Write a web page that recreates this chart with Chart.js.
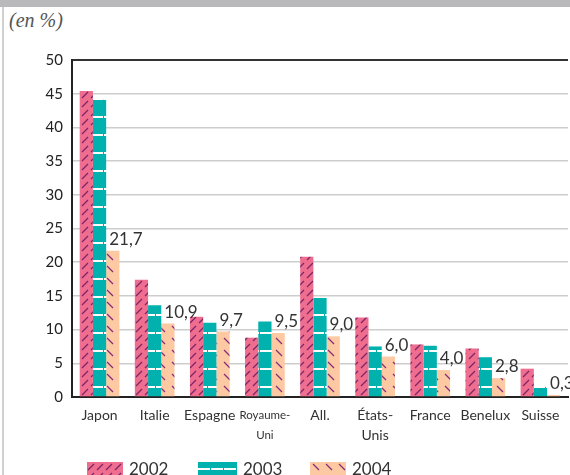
<!DOCTYPE html>
<html>
<head>
<meta charset="utf-8">
<script src="https://cdn.jsdelivr.net/npm/chart.js@4.4.1/dist/chart.umd.min.js"></script>
<style>
  body { margin: 0; width: 570px; height: 475px; overflow: hidden; background: #fff; position: relative; font-family: Lato, sans-serif; }
  #topband { position: absolute; left: 0; top: 0; width: 570px; height: 7px; background: #b9b9bb; }
  #leftline { position: absolute; left: 2px; top: 7px; width: 2px; height: 468px; background: #d0d0d0; }
  #unit { position: absolute; left: 9px; top: 9px; font-family: "Liberation Serif", serif; font-style: italic; font-size: 20px; color: #555; }
  #wrap { position: absolute; left: 0; top: 0; width: 570px; height: 475px; }
  .leg { position: absolute; top: 460px; font-size: 17px; color: #333; line-height: 17px; }
  .leg canvas { position: absolute; top: 2px; }
</style>
</head>
<body>
<div id="topband"></div>
<div id="leftline"></div>
<div id="unit">(en %)</div>
<div id="wrap"><canvas id="myChart" width="570" height="475"></canvas></div>
<div id="legend"></div>
<script>
'use strict';
let countries = ['Japon', 'Italie', 'Espagne', ['Royaume-', 'Uni'], 'All.', ['États-', 'Unis'], 'France', 'Benelux', 'Suisse'];
let years = ['2002', '2003', '2004'];
let values2002 = [45.4, 17.4, 11.9, 8.8, 20.8, 11.8, 7.8, 7.2, 4.2];
let values2003 = [44.1, 13.6, 11.0, 11.2, 14.7, 7.5, 7.6, 5.9, 1.5];
let values2004 = [21.7, 10.9, 9.7, 9.5, 9.0, 6.0, 4.0, 2.8, 0.3];
let yTicks = [0, 5, 10, 15, 20, 25, 30, 35, 40, 45, 50];

function makePattern(w, h, bg, draw) {
    let c = document.createElement('canvas');
    c.width = w;
    c.height = h;
    let g = c.getContext('2d');
    g.fillStyle = bg;
    g.fillRect(0, 0, w, h);
    draw(g);
    return c;
}

// 2002 : rose hachuré /
let tile2002 = makePattern(9, 9, '#ef6e8f', function (g) {
    g.strokeStyle = '#7b2466';
    g.lineWidth = 1.3;
    g.beginPath();
    g.moveTo(1, 8);
    g.lineTo(7, 2);
    g.stroke();
});
// 2003 : turquoise avec traits blancs horizontaux
let tile2003 = makePattern(13, 18, '#00b1ad', function (g) {
    g.fillStyle = '#ffffff';
    g.fillRect(0, 8, 12, 2);
});
// 2004 : pêche hachuré \
let tile2004 = makePattern(13, 12, '#fcc9a2', function (g) {
    g.strokeStyle = '#8a2a78';
    g.lineWidth = 1.3;
    g.beginPath();
    g.moveTo(3, 2);
    g.lineTo(9, 8);
    g.stroke();
});

let ctx = document.getElementById('myChart').getContext('2d');
let fill2002 = ctx.createPattern(tile2002, 'repeat');
let fill2003 = ctx.createPattern(tile2003, 'repeat');
let fill2004 = ctx.createPattern(tile2004, 'repeat');

// étiquettes de valeur sur 2004
let valueLabels = {
    id: 'valueLabels',
    afterDatasetsDraw(chart) {
        let c = chart.ctx;
        let meta = chart.getDatasetMeta(2);
        c.save();
        c.font = '17px Lato';
        c.fillStyle = '#333';
        c.textAlign = 'left';
        c.textBaseline = 'bottom';
        meta.data.forEach(function (bar, i) {
            let txt = values2004[i].toFixed(1).replace('.', ',');
            c.fillText(txt, bar.x - bar.width / 2 + 3, bar.y - 3);
        });
        c.restore();
    }
};

var myChart = new Chart(ctx, {
    type: 'bar',
    data: {
        labels: countries,
        datasets: [{
            label: years[0],
            data: values2002,
            backgroundColor: fill2002
        }, {
            label: years[1],
            data: values2003,
            backgroundColor: fill2003
        }, {
            label: years[2],
            data: values2004,
            backgroundColor: fill2004
        }]
    },
    options: {
        responsive: false,
        animation: false,
        layout: { padding: { top: 60, right: 2, left: 0, bottom: 0 } },
        plugins: {
            legend: { display: false },
            tooltip: { enabled: false }
        },
        datasets: {
            bar: { categoryPercentage: 0.72, barPercentage: 1.0 }
        },
        scales: {
            x: {
                afterFit: function (scale) { scale.height = 78; },
                grid: { display: false, drawTicks: false },
                border: { display: true, color: '#222', width: 2 },
                ticks: {
                    color: '#333',
                    padding: 8,
                    maxRotation: 0,
                    autoSkip: false,
                    font: function (c) {
                        return c.index === 3 ? { family: 'Lato', size: 11.5, lineHeight: 1.75 } : { family: 'Lato', size: 14, lineHeight: 1.45 };
                    }
                }
            },
            y: {
                min: 0,
                max: 50,
                afterFit: function (scale) { scale.width = 72; },
                afterBuildTicks: function (scale) { scale.ticks = yTicks.map(function (v) { return { value: v }; }); },
                grid: {
                    drawTicks: false,
                    color: function (c) { return c.tick && c.tick.value === 50 ? '#333' : '#cdcdcd'; },
                    lineWidth: function (c) { return c.tick && c.tick.value === 50 ? 2 : 1.5; }
                },
                border: { display: true, color: '#222', width: 2 },
                ticks: {
                    color: '#222',
                    padding: 9,
                    font: { family: 'Lato', size: 15 }
                }
            }
        }
    },
    plugins: [valueLabels]
});

// légende
let legendBox = document.getElementById('legend');
let legendPos = [{ box: 87, text: 129 }, { box: 198, text: 243 }, { box: 310, text: 352 }];
let tiles = [tile2002, tile2003, tile2004];
for (let i = 0; i < years.length; i++) {
    let sw = document.createElement('canvas');
    sw.width = legendPos[i].text - legendPos[i].box - 6;
    sw.height = 14;
    let g = sw.getContext('2d');
    g.fillStyle = g.createPattern(tiles[i], 'repeat');
    if (i === 1) {
        g.fillStyle = '#00b1ad';
        g.fillRect(0, 0, sw.width, 14);
        g.fillStyle = '#fff';
        for (let x = 0; x < sw.width; x += 13) g.fillRect(x, 6, 12, 2);
    } else {
        g.fillRect(0, 0, sw.width, 14);
    }
    sw.style.left = legendPos[i].box + 'px';
    let lab = document.createElement('div');
    lab.className = 'leg';
    lab.style.left = legendPos[i].text + 'px';
    lab.textContent = years[i];
    let holder = document.createElement('div');
    holder.className = 'leg';
    holder.style.left = '0px';
    holder.appendChild(sw);
    legendBox.appendChild(holder);
    legendBox.appendChild(lab);
}
</script>
</body>
</html>
